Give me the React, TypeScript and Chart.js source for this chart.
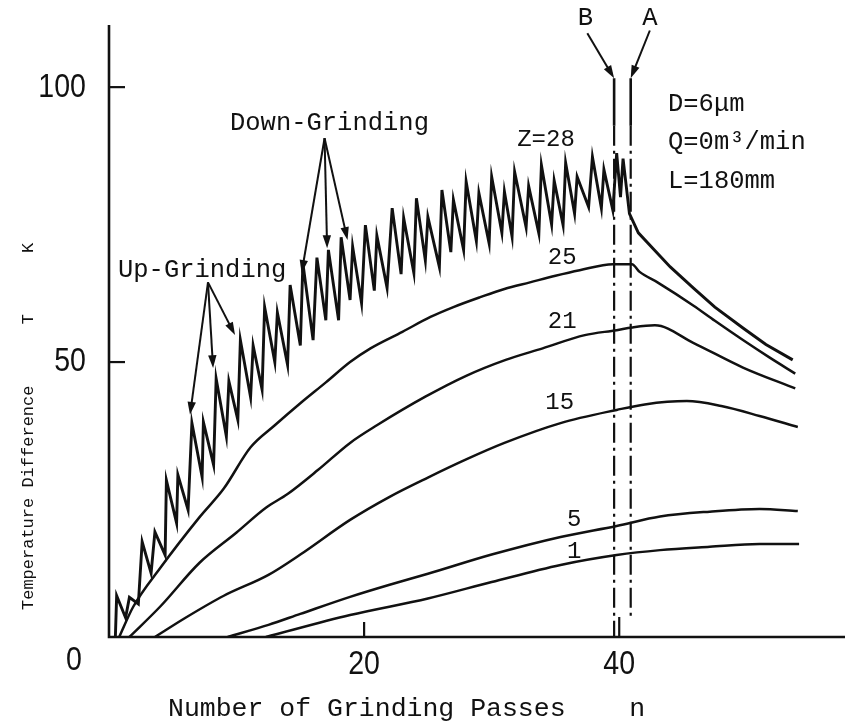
import React, { useEffect, useRef } from 'react';
import { Chart, registerables } from 'chart.js';

Chart.register(...registerables);

// ---------------- data (n = number of grinding passes, T = temperature difference K) ----------------
const z28Passes = [0.5, 0.6, 1.3, 1.6, 2.3, 2.6, 3.3, 3.6, 4.4, 4.5, 5.3, 5.4, 6.2, 6.5, 7.3, 7.4, 8.2, 8.4, 9.2, 9.4, 10.1, 10.3, 11.1, 11.3, 12.0, 12.2, 13.0, 13.2, 14.0, 14.2, 15.0, 15.2, 16.0, 16.3, 17.0, 17.2, 18.0, 18.2, 18.9, 19.1, 19.8, 20.1, 20.8, 21.0, 21.8, 22.2, 22.9, 23.1, 23.9, 24.1, 24.8, 25.0, 25.9, 26.1, 26.8, 27.0, 27.8, 28.0, 28.8, 29.0, 29.8, 30.0, 30.8, 31.0, 31.6, 31.8, 32.7, 32.9, 33.7, 33.9, 34.7, 34.9, 35.6, 35.8, 36.5, 36.7, 37.6, 37.9, 38.6, 38.8, 39.5, 39.8, 40.1, 40.3, 40.8, 41.5, 42.7, 44.0, 45.8, 47.5, 49.7, 51.5, 53.6];
const z28Temp = [0, 7.5, 3.5, 7.2, 6.0, 17.3, 11.6, 19.1, 14.9, 28.5, 20.7, 29.5, 23.1, 38.9, 29.1, 39.1, 31.3, 47.0, 36.5, 46.5, 39.5, 54.0, 43.6, 53.0, 45.0, 60.0, 50.0, 59.0, 49.5, 64.0, 53.0, 68.0, 54.0, 69.0, 57.6, 70.4, 57.6, 72.7, 61.3, 71.0, 60.7, 74.9, 63.0, 73.0, 63.5, 78.0, 66.0, 76.2, 66.2, 79.8, 68.5, 76.4, 67.3, 81.3, 70.0, 79.5, 70.4, 82.8, 72.0, 80.7, 71.6, 83.7, 73.5, 81.0, 72.8, 84.6, 74.5, 82.0, 73.4, 85.8, 75.0, 83.0, 74.9, 86.2, 77.0, 83.7, 78.2, 87.3, 78.0, 85.0, 77.6, 88.0, 80.0, 87.0, 77.0, 73.5, 70.5, 67.3, 63.5, 60.0, 56.2, 53.2, 50.4];

const z25Passes = [0.8, 1.9, 4.0, 7.1, 9.0, 11.1, 13.0, 15.0, 17.0, 18.9, 20.5, 23.0, 25.2, 27.0, 29.1, 31.0, 33.0, 35.0, 36.9, 39.5, 41.0, 41.6, 43.0, 45.8, 47.5, 49.7, 51.8, 53.8];
const z25Temp = [0, 5.5, 12.5, 21.8, 27.0, 34.5, 38.5, 42.5, 46.3, 50.0, 52.5, 55.5, 58.2, 60.0, 61.8, 63.3, 64.5, 65.7, 66.7, 67.8, 67.8, 66.4, 64.5, 60.3, 57.5, 54.0, 50.8, 47.9];

const z21Passes = [1.6, 4.0, 7.1, 10.0, 12.3, 14.0, 16.4, 18.9, 21.0, 24.8, 28.0, 31.1, 34.0, 37.3, 39.8, 41.0, 42.8, 45.8, 49.7, 53.8];
const z21Temp = [0, 5.5, 13.5, 19.0, 23.5, 26.0, 30.4, 35.3, 38.5, 43.7, 47.5, 50.4, 52.5, 54.9, 55.8, 56.3, 56.7, 53.5, 49.0, 45.2];

const z15Passes = [3.6, 6.0, 9.0, 12.5, 15.0, 18.9, 22.0, 25.0, 28.0, 31.0, 35.4, 39.8, 42.0, 45.3, 48.0, 51.0, 54.0];
const z15Temp = [0, 3.5, 7.5, 11.3, 15.0, 21.3, 25.5, 29.0, 32.3, 35.3, 38.9, 41.3, 42.3, 42.9, 42.0, 40.2, 38.2];

const z5Passes = [9.3, 12.5, 15.0, 18.9, 22.0, 25.0, 30.0, 35.4, 39.8, 43.2, 47.1, 51.0, 54.0];
const z5Temp = [0, 2.2, 4.2, 7.3, 9.5, 11.5, 15.0, 18.2, 20.2, 21.9, 22.8, 23.3, 22.9];

const z1Passes = [12.3, 18.9, 25.0, 30.0, 35.4, 39.8, 43.2, 47.1, 51.0, 54.1];
const z1Temp = [0, 4.0, 7.0, 10.0, 13.1, 14.9, 15.8, 16.4, 16.9, 16.9];

// end-of-grinding markers (n) and the extent of their lines (T)
const markerNames = ['B', 'A'];
const markerPasses = [39.6, 40.9];
const markerSolidTop = 101.6;
const markerSolidBottom = 93;
const markerDashEnd = [0, 3.5];

// axes
const xMax = 57.7;
const yMax = 111.3;
const xTickValues = [20, 40];
const yTickValues = [50, 100];
const originLabel = '0';

// texts
const curveLabels = ['Z=28', '25', '21', '15', '5', '1'];
const curveLabelPasses = [32.0, 34.4, 34.4, 34.2, 35.9, 35.9];
const curveLabelTemps = [90.4, 69.0, 57.3, 42.7, 21.3, 15.5];
const conditionLines = ['D=6μm', 'Q=0m³/min', 'L=180mm'];
const yTitle = 'Temperature Difference      T      K';
const xTitle = 'Number of Grinding Passes    n';

// arrow annotations (data units): apex -> tips
const upLabel = 'Up-Grinding';
const upApex = [7.76, 64.5];
const upTips = [[6.35, 40.4], [8.16, 48.9], [9.88, 54.9]];
const downLabel = 'Down-Grinding';
const downApex = [16.9, 90.7];
const downTips = [[15.1, 66.2], [17.1, 70.7], [18.7, 72.2]];
const markerArrowStarts = [[37.5, 109.8], [42.4, 110.3]];

const INK = '#111';
const MONO = '"Liberation Mono", "DejaVu Sans Mono", monospace';
const SANS = '"Liberation Sans", "DejaVu Sans", sans-serif';

const pts = (xs: number[], ys: number[]) => xs.map((x, i) => ({ x, y: ys[i] }));

function drawArrow(ctx: CanvasRenderingContext2D, x1: number, y1: number, x2: number, y2: number) {
  const ang = Math.atan2(y2 - y1, x2 - x1);
  const head = 13;
  const half = 4.2;
  ctx.beginPath();
  ctx.moveTo(x1, y1);
  ctx.lineTo(x2 - Math.cos(ang) * head * 0.8, y2 - Math.sin(ang) * head * 0.8);
  ctx.stroke();
  ctx.beginPath();
  ctx.moveTo(x2, y2);
  ctx.lineTo(x2 - Math.cos(ang) * head - Math.sin(ang) * half, y2 - Math.sin(ang) * head + Math.cos(ang) * half);
  ctx.lineTo(x2 - Math.cos(ang) * head + Math.sin(ang) * half, y2 - Math.sin(ang) * head - Math.cos(ang) * half);
  ctx.closePath();
  ctx.fill();
}

function condensedText(ctx: CanvasRenderingContext2D, text: string, x: number, y: number, align: 'left' | 'center' | 'right', sx: number) {
  ctx.save();
  ctx.translate(x, y);
  ctx.scale(sx, 1);
  ctx.textAlign = align;
  ctx.fillText(text, 0, 0);
  ctx.restore();
}

const decorPlugin = {
  id: 'decor',
  beforeDraw(chart: any) {
    const { ctx, width, height } = chart;
    ctx.save();
    ctx.fillStyle = '#fff';
    ctx.fillRect(0, 0, width, height);
    ctx.restore();
  },
  afterDraw(chart: any) {
    const { ctx, chartArea } = chart;
    const xs = chart.scales.x;
    const ys = chart.scales.y;
    const px = (v: number) => xs.getPixelForValue(v);
    const py = (v: number) => ys.getPixelForValue(v);
    ctx.save();
    ctx.strokeStyle = INK;
    ctx.fillStyle = INK;
    ctx.lineCap = 'butt';

    // axes
    ctx.lineWidth = 2.6;
    ctx.beginPath();
    ctx.moveTo(chartArea.left, chartArea.top);
    ctx.lineTo(chartArea.left, chartArea.bottom);
    ctx.lineTo(chartArea.right, chartArea.bottom);
    ctx.stroke();

    // inward tick marks
    ctx.lineWidth = 2.2;
    yTickValues.forEach((v) => {
      ctx.beginPath();
      ctx.moveTo(chartArea.left, py(v));
      ctx.lineTo(chartArea.left + 16, py(v));
      ctx.stroke();
    });
    xTickValues.forEach((v, i) => {
      ctx.beginPath();
      ctx.moveTo(px(v), chartArea.bottom);
      ctx.lineTo(px(v), chartArea.bottom - (i === 0 ? 15 : 20));
      ctx.stroke();
    });

    // tick labels (condensed sans)
    ctx.font = `34px ${SANS}`;
    ctx.textBaseline = 'middle';
    yTickValues.forEach((v) => condensedText(ctx, String(v), chartArea.left - 23, py(v), 'right', 0.84));
    xTickValues.forEach((v) => condensedText(ctx, String(v), px(v), chartArea.bottom + 28, 'center', 0.84));
    condensedText(ctx, originLabel, chartArea.left - 35, chartArea.bottom + 24, 'center', 0.84);

    // axis titles
    ctx.font = `17px ${MONO}`;
    ctx.save();
    ctx.translate(28, 610);
    ctx.rotate(-Math.PI / 2);
    ctx.textAlign = 'left';
    ctx.textBaseline = 'middle';
    ctx.fillText(yTitle, 0, 0);
    ctx.restore();

    ctx.font = `26.5px ${MONO}`;
    ctx.textAlign = 'left';
    ctx.textBaseline = 'middle';
    ctx.fillText(xTitle, 168, 709);

    // curve labels
    ctx.font = `24px ${MONO}`;
    curveLabels.forEach((t, i) => {
      ctx.fillText(t, px(curveLabelPasses[i]), py(curveLabelTemps[i]));
    });

    // condition text
    ctx.font = `25.5px ${MONO}`;
    conditionLines.forEach((t, i) => {
      ctx.fillText(t, 668, 104 + i * 38.5);
    });

    // grinding labels + arrows
    ctx.font = `25.5px ${MONO}`;
    ctx.fillText(upLabel, 118, 270);
    ctx.fillText(downLabel, 230, 123);
    ctx.lineWidth = 2;
    upTips.forEach(([n, t]) => drawArrow(ctx, px(upApex[0]), py(upApex[1]), px(n), py(t)));
    downTips.forEach(([n, t]) => drawArrow(ctx, px(downApex[0]), py(downApex[1]), px(n), py(t)));

    // B / A arrows and letters
    markerNames.forEach((name, i) => {
      const [sn, st] = markerArrowStarts[i];
      drawArrow(ctx, px(sn), py(st), px(markerPasses[i]), py(markerSolidTop));
      ctx.textAlign = 'center';
      ctx.fillText(name, px(sn) - (i === 0 ? 2 : 0), 18);
    });

    ctx.restore();
  },
};

export default function App() {
  const ref = useRef<HTMLCanvasElement>(null);
  useEffect(() => {
    const canvas = ref.current;
    if (!canvas) return;
    const curve = (xs: number[], ys: number[], smooth: boolean, w = 2.5) => ({
      data: pts(xs, ys),
      borderColor: INK,
      borderWidth: w,
      pointRadius: 0,
      fill: false,
      tension: 0,
      cubicInterpolationMode: smooth ? 'monotone' : 'default',
    });
    const datasets: any[] = [
      curve(z28Passes, z28Temp, false, 2.9),
      curve(z25Passes, z25Temp, true),
      curve(z21Passes, z21Temp, true),
      curve(z15Passes, z15Temp, true),
      curve(z5Passes, z5Temp, true),
      curve(z1Passes, z1Temp, true),
    ];
    markerPasses.forEach((n, i) => {
      datasets.push({
        data: [{ x: n, y: markerSolidTop }, { x: n, y: markerSolidBottom }],
        borderColor: INK,
        borderWidth: 2.6,
        pointRadius: 0,
      });
      datasets.push({
        data: [{ x: n, y: markerSolidBottom }, { x: n, y: markerDashEnd[i] }],
        borderColor: INK,
        borderWidth: 2.2,
        pointRadius: 0,
        borderDash: [20, 5, 3, 5],
      });
    });
    const chart = new Chart(canvas, {
      type: 'line',
      data: { datasets },
      options: {
        animation: false,
        responsive: false,
        devicePixelRatio: 1,
        layout: { padding: { top: 25, right: 0, left: 0, bottom: 0 } },
        plugins: { legend: { display: false }, tooltip: { enabled: false } },
        scales: {
          x: {
            type: 'linear',
            min: 0,
            max: xMax,
            grid: { display: false },
            border: { display: false },
            ticks: { display: false },
            afterFit: (s: any) => { s.height = 91; },
          },
          y: {
            type: 'linear',
            min: 0,
            max: yMax,
            grid: { display: false },
            border: { display: false },
            ticks: { display: false },
            afterFit: (s: any) => { s.width = 109; },
          },
        },
      } as any,
      plugins: [decorPlugin],
    });
    return () => chart.destroy();
  }, []);
  return (
    <div style={{ position: 'absolute', left: 0, top: 0, width: 845, height: 728, background: '#fff' }}>
      <canvas ref={ref} width={845} height={728} style={{ width: 845, height: 728, display: 'block' }} />
    </div>
  );
}
